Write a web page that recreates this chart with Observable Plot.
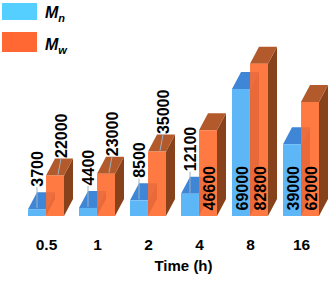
<!DOCTYPE html>
<html><head><meta charset="utf-8">
<script src="https://cdn.jsdelivr.net/npm/d3@7"></script>
<script src="https://cdn.jsdelivr.net/npm/@observablehq/plot@0.6"></script>
<style>
body{margin:0;background:#fff;}
#wrap{position:relative;width:331px;height:284px;font-family:"Liberation Sans",Arial,sans-serif;}
.sw{position:absolute;left:2px;width:35px;}
.lab{position:absolute;left:45px;font:italic bold 16px "Liberation Sans",Arial,sans-serif;line-height:16px;color:#000;white-space:nowrap;}
.lab sub{font-size:11px;vertical-align:-4px;line-height:0;}
</style></head><body><div id="wrap"></div>
<script>
// ---- data ----
const times = ["0.5", "1", "2", "4", "8", "16"];
const mnValues = [3700, 4400, 8500, 12100, 69000, 39000];
const mwValues = [22000, 23000, 35000, 46600, 82800, 62000];
const seriesKeys = ["Mn", "Mw"];
const seriesSubs = ["n", "w"];
const insideThreshold = 36000;
const xLabel = "Time (h)";

// ---- styles / layout ----
const W = 331, H = 284;
const ML = 26, MR = 11, MT = 32, MB = 68;
const PI = 0.3;
const DEPTH_X = 9, DEPTH_Y = 17;
const styles = {
  Mn: {front: "#5DB6F6", top: "#3F86D6", side: "#2E62A6", legend: "#55CFFF", labelDx: 0, gap: 23, opacity: 1},
  Mw: {front: "#FF6A2E", top: "#B25A2C", side: "#87421B", legend: "#FF6733", labelDx: 6, gap: 18, opacity: 0.9}
};

const rows = [];
times.forEach((t, i) => {
  rows.push({t, series: "Mn", value: mnValues[i]});
  rows.push({t, series: "Mw", value: mwValues[i]});
});

const step = (W - ML - MR) / (times.length - PI);
const bwCalc = step * (1 - PI);
const half = bwCalc / 2;

function bandw(x) {
  if (x && typeof x.bandwidth === "function") return x.bandwidth();
  if (x && typeof x.bandwidth === "number") return x.bandwidth;
  return bwCalc;
}

function faces(key) {
  const s = styles[key];
  return (index, scales) => {
    const {x, y} = scales;
    const bw = bandw(x);
    const g = d3.create("svg:g");
    rows.filter(r => r.series === key).forEach(r => {
      const x0 = x(r.t) + (key === "Mw" ? bw / 2 : 0);
      const x1 = x0 + bw / 2;
      const yT = y(r.value), y0 = y(0);
      g.append("path")
        .attr("d", `M${x1},${yT}L${x1 + DEPTH_X},${yT - DEPTH_Y}L${x1 + DEPTH_X},${y0 - DEPTH_Y}L${x1},${y0}Z`)
        .attr("fill", s.side);
      g.append("path")
        .attr("d", `M${x0},${yT}L${x1},${yT}L${x1 + DEPTH_X},${yT - DEPTH_Y}L${x0 + DEPTH_X},${yT - DEPTH_Y}Z`)
        .attr("fill", s.top);
    });
    return g.node();
  };
}

function leaders(index, scales) {
  const {x, y} = scales;
  const bw = bandw(x);
  const g = d3.create("svg:g");
  rows.filter(r => r.value < insideThreshold).forEach(r => {
    const s = styles[r.series];
    const xc = x(r.t) + (r.series === "Mw" ? bw * 0.75 : bw * 0.25);
    const yT = y(r.value);
    g.append("line")
      .attr("x1", xc + s.labelDx * 0.5).attr("y1", yT - 1)
      .attr("x2", xc + s.labelDx).attr("y2", yT - s.gap + 1)
      .attr("stroke", "#9DB2C4").attr("stroke-width", 1);
  });
  return g.node();
}

const marks = [];
seriesKeys.forEach(key => {
  const s = styles[key];
  const data = rows.filter(r => r.series === key);
  marks.push(faces(key));
  marks.push(Plot.barY(data, {
    x: "t", y: "value", fill: s.front, fillOpacity: s.opacity,
    insetLeft: key === "Mw" ? half : 0,
    insetRight: key === "Mn" ? half : 0
  }));
});
marks.push(leaders);
seriesKeys.forEach(key => {
  const s = styles[key];
  const offs = key === "Mn" ? -half / 2 : half / 2;
  const outside = rows.filter(r => r.series === key && r.value < insideThreshold);
  const inside = rows.filter(r => r.series === key && r.value >= insideThreshold);
  marks.push(Plot.text(outside, {
    x: "t", y: "value", text: d => String(d.value), rotate: -90,
    textAnchor: "start", lineAnchor: "middle", dx: offs + s.labelDx, dy: -s.gap,
    fontSize: 16, fontWeight: "bold", fill: "#000"
  }));
  marks.push(Plot.text(inside, {
    x: "t", y: 0, text: d => String(d.value), rotate: -90,
    textAnchor: "start", lineAnchor: "middle", dx: offs + 1, dy: -6,
    fontSize: 16, fontWeight: "bold", fill: "#000"
  }));
});
marks.push(Plot.text(times, {
  x: d => d, frameAnchor: "bottom", dy: 33, text: d => d,
  fontSize: 15.5, fontWeight: "bold", fill: "#000"
}));
marks.push(Plot.text([xLabel], {
  frameAnchor: "bottom", dx: 10, dy: 54.5, text: d => d,
  fontSize: 15, fontWeight: "bold", fill: "#000"
}));

const chart = Plot.plot({
  width: W, height: H,
  marginLeft: ML, marginRight: MR, marginTop: MT, marginBottom: MB,
  x: {domain: times, paddingInner: PI, paddingOuter: 0, axis: null},
  y: {domain: [0, 100000], axis: null},
  style: {fontFamily: '"Liberation Sans", Arial, sans-serif', background: "white", overflow: "visible"},
  marks
});

const wrap = document.getElementById("wrap");
wrap.appendChild(chart);

// legend overlay
const legTops = [{sw: 3, swh: 17, lab: 4.5}, {sw: 32, swh: 20, lab: 36.5}];
seriesKeys.forEach((key, i) => {
  const sw = document.createElement("div");
  sw.className = "sw";
  sw.style.top = legTops[i].sw + "px";
  sw.style.height = legTops[i].swh + "px";
  sw.style.background = styles[key].legend;
  wrap.appendChild(sw);
  const lab = document.createElement("div");
  lab.className = "lab";
  lab.style.top = legTops[i].lab + "px";
  lab.innerHTML = `M<sub>${seriesSubs[i]}</sub>`;
  wrap.appendChild(lab);
});
</script>
</body></html>
